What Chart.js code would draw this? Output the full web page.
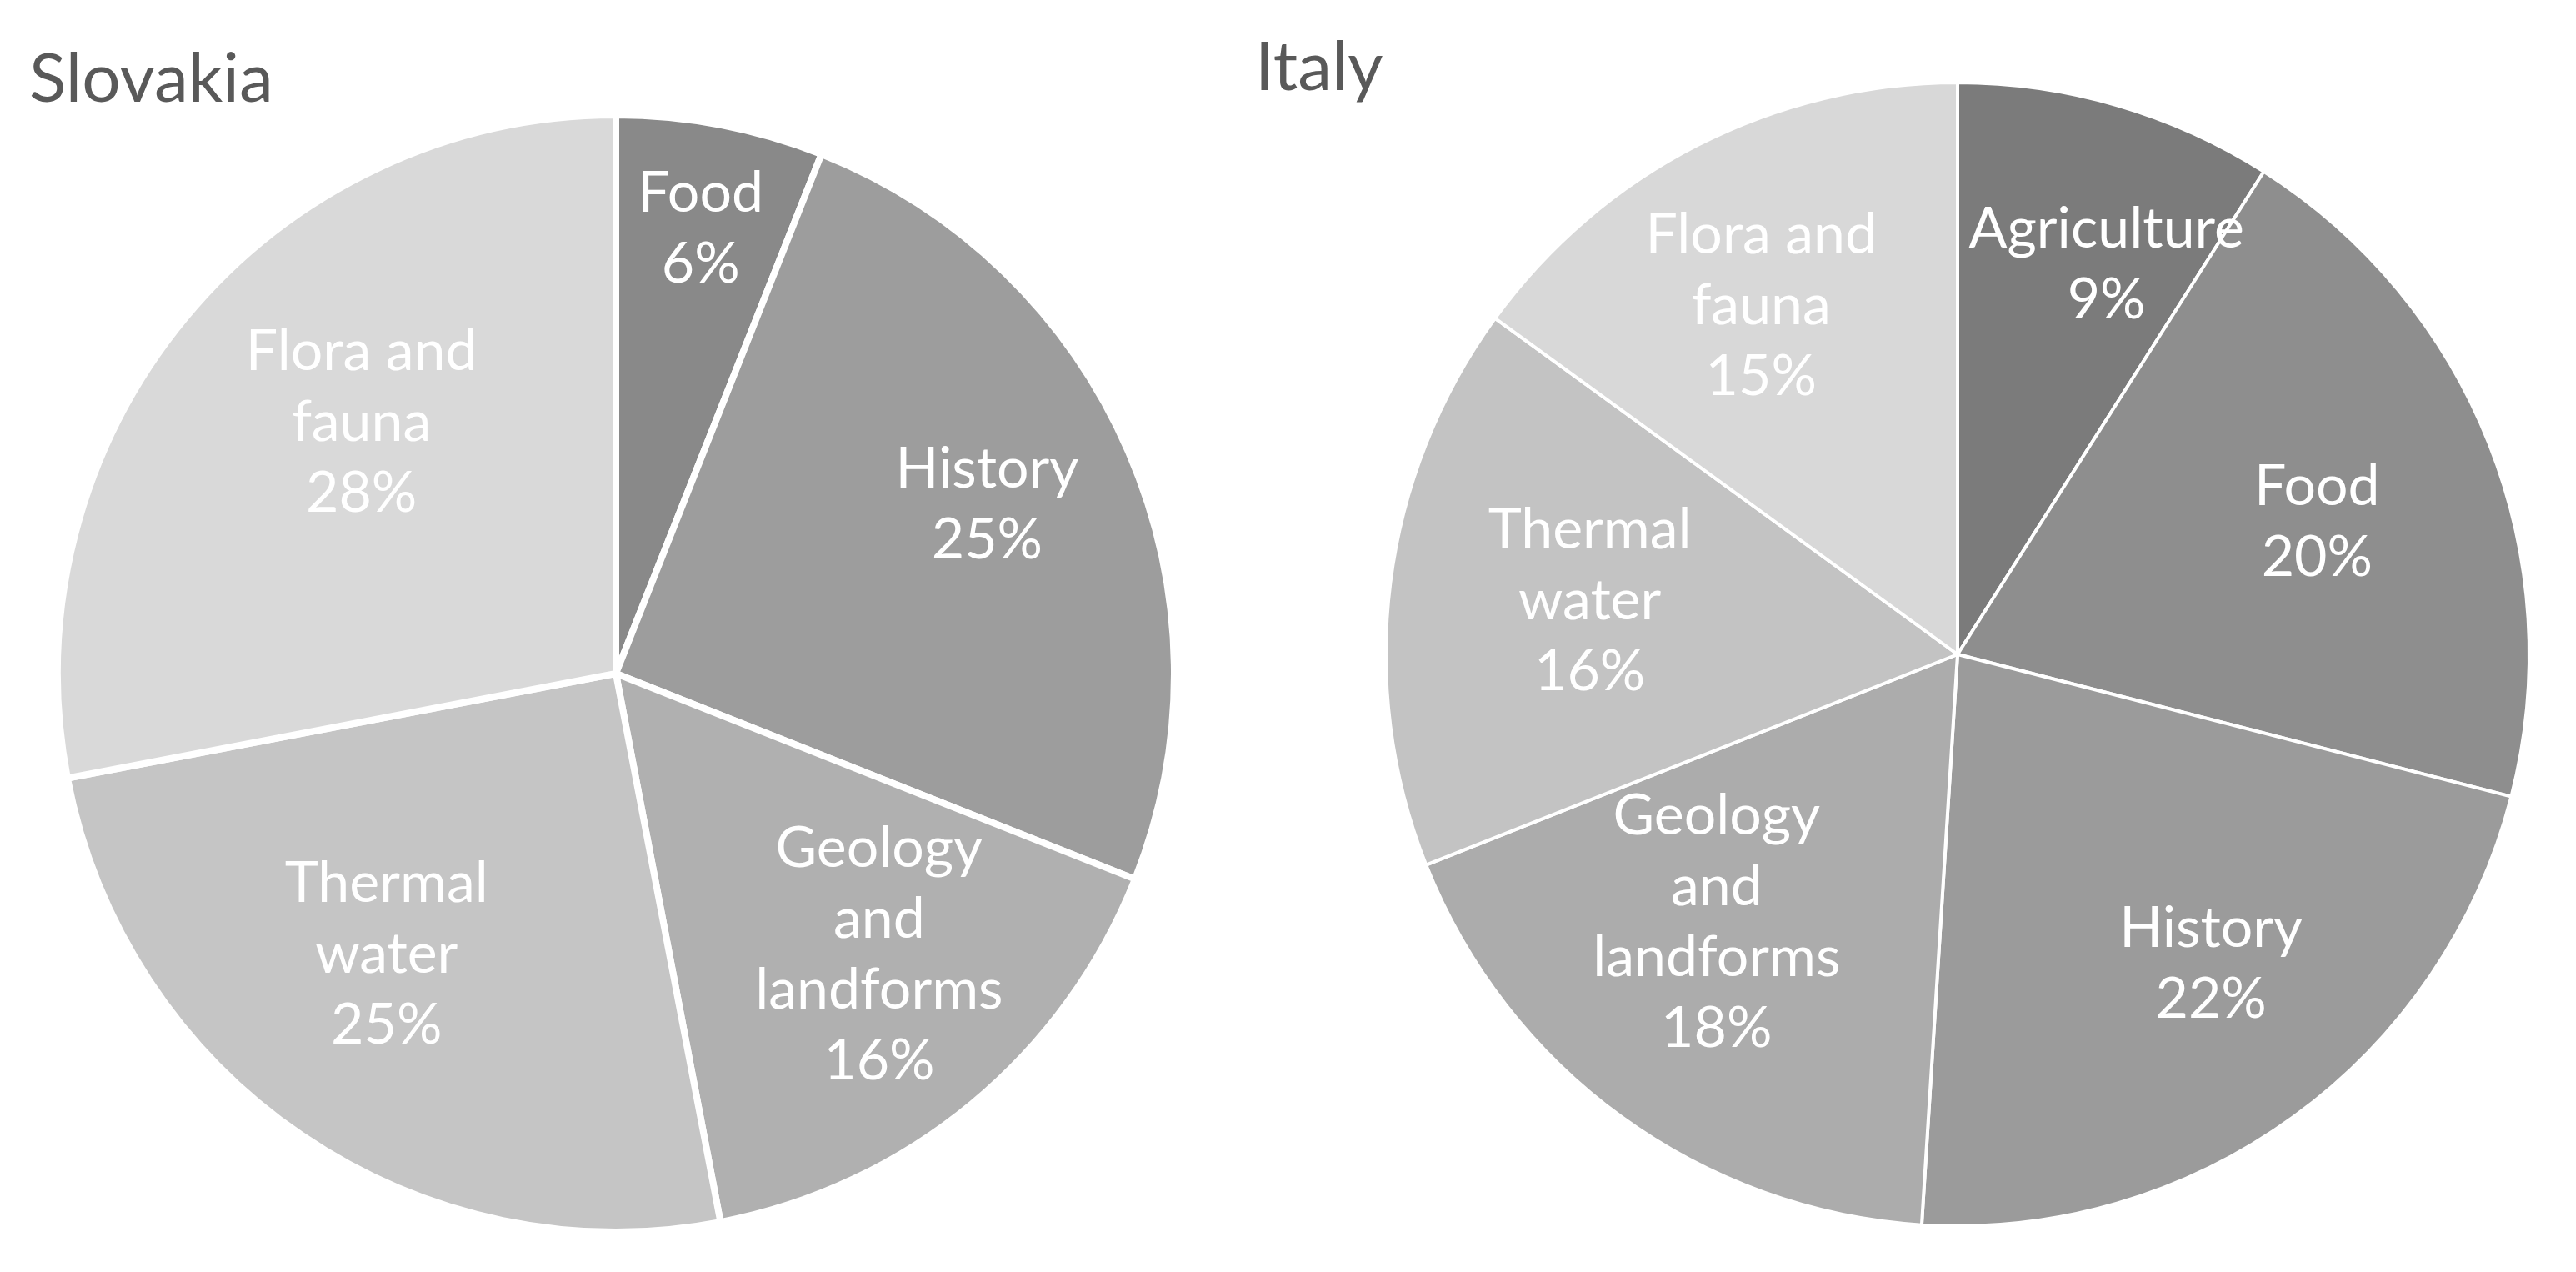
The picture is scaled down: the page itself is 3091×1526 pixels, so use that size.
<!DOCTYPE html>
<html>
<head>
<meta charset="utf-8">
<title>Slovakia and Italy</title>
<script src="https://cdn.jsdelivr.net/npm/chart.js@4"></script>
<style>
  html, body { margin: 0; padding: 0; background: #ffffff; }
  body { width: 3091px; height: 1526px; position: relative; overflow: hidden; }
  .title { position: absolute; font-family: Lato, sans-serif; font-size: 82px; line-height: 82px; color: #595959; }
  canvas { position: absolute; }
</style>
</head>
<body>
<div class="title" style="left:35px; top:49px;">Slovakia</div>
<div class="title" style="left:1506px; top:35px;">Italy</div>
<canvas id="sk-chart" width="1352" height="1352" style="left:63px; top:132px;"></canvas>
<canvas id="it-chart" width="1388" height="1388" style="left:1655px; top:91px;"></canvas>
<script>
// Slovakia
const skLabels = [['Food'], ['History'], ['Geology', 'and', 'landforms'], ['Thermal', 'water'], ['Flora and', 'fauna']];
const skValues = [6, 25, 16, 25, 28];
const skColors = ['#898989', '#9d9d9d', '#b0b0b0', '#c5c5c5', '#d9d9d9'];

// Italy
const itLabels = [['Agriculture'], ['Food'], ['History'], ['Geology', 'and', 'landforms'], ['Thermal', 'water'], ['Flora and', 'fauna']];
const itValues = [9, 20, 22, 18, 16, 15];
const itColors = ['#7b7b7b', '#8e8e8e', '#9b9b9b', '#acacac', '#c3c3c3', '#d8d8d8'];

// white text inside each slice, near the slice's middle angle
const sliceLabels = {
    id: 'sliceLabels',
    afterDatasetsDraw(chart, args, opts) {
        const ctx = chart.ctx;
        const meta = chart.getDatasetMeta(0);
        const values = chart.data.datasets[0].data;
        ctx.save();
        ctx.fillStyle = '#ffffff';
        ctx.font = '68px Lato, sans-serif';
        ctx.textAlign = 'center';
        ctx.textBaseline = 'middle';
        meta.data.forEach((arc, i) => {
            const p = arc.getProps(['x', 'y', 'startAngle', 'endAngle', 'outerRadius'], true);
            const mid = (p.startAngle + p.endAngle) / 2 + opts.nudge[i] * Math.PI / 180;
            const d = p.outerRadius * opts.place[i];
            const lx = p.x + Math.cos(mid) * d;
            const ly = p.y + Math.sin(mid) * d;
            const lines = chart.data.labels[i].concat([values[i] + '%']);
            lines.forEach((line, k) => {
                ctx.fillText(line, lx, ly + (k - (lines.length - 1) / 2) * opts.lineHeight);
            });
        });
        ctx.restore();
    }
};

function makePie(id, labels, values, colors, radius, border, place, nudge) {
    const ctx = document.getElementById(id).getContext('2d');
    return new Chart(ctx, {
        type: 'pie',
        data: {
            labels: labels,
            datasets: [{
                data: values,
                backgroundColor: colors,
                borderColor: '#ffffff',
                borderWidth: border,
                radius: radius
            }]
        },
        options: {
            responsive: false,
            maintainAspectRatio: false,
            animation: false,
            layout: { padding: 0 },
            plugins: {
                legend: { display: false },
                tooltip: { enabled: false },
                sliceLabels: { place: place, nudge: nudge, lineHeight: 85 }
            }
        },
        plugins: [sliceLabels]
    });
}

makePie('sk-chart', skLabels, skValues, skColors, 670, 8,
    [0.81, 0.73, 0.69, 0.65, 0.64], [0, -1, -3.5, 5, 5]);
makePie('it-chart', itLabels, itValues, itColors, 686, 4,
    [0.73, 0.67, 0.70, 0.63, 0.65, 0.70], [4.7, 1.4, -3.3, 6, 1, -2.4]);
</script>
</body>
</html>
